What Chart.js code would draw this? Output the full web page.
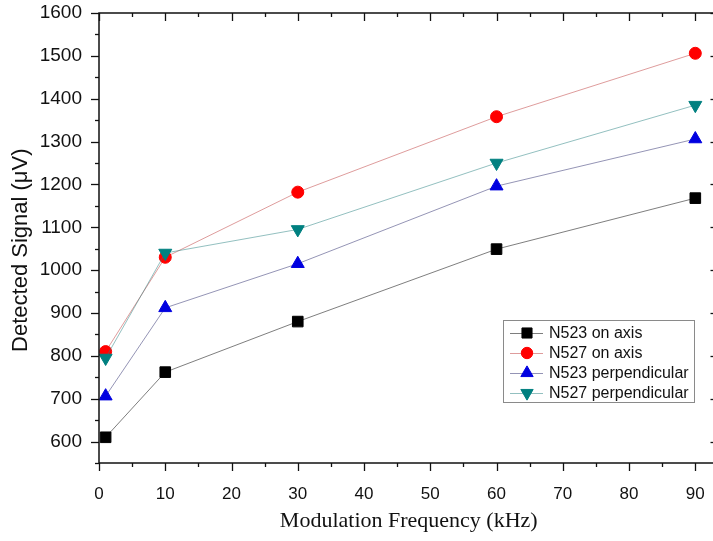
<!DOCTYPE html>
<html>
<head>
<meta charset="utf-8">
<title>Detected signal vs modulation frequency</title>
<script src="https://cdn.jsdelivr.net/npm/chart.js@4/dist/chart.umd.min.js"></script>
<style>
  html, body { margin: 0; padding: 0; background: #fff; overflow: hidden; }
  #wrap { width: 727px; height: 541px; }
</style>
</head>
<body>
<div id="wrap"><canvas id="signalChart" width="727" height="541"></canvas></div>
<script>
// values (kHz / µV)
const freqKHz = [1, 10, 30, 60, 90];
const n523OnAxis = [610, 762, 880, 1049, 1168];
const n527OnAxis = [810, 1030, 1182, 1358, 1506];
const n523Perp = [706, 912, 1015, 1196, 1306];
const n527Perp = [795, 1040, 1095, 1250, 1385];

const seriesNames = ['N523 on axis', 'N527 on axis', 'N523 perpendicular', 'N527 perpendicular'];
const xTicks = [0, 10, 20, 30, 40, 50, 60, 70, 80, 90];
const yTicks = [600, 700, 800, 900, 1000, 1100, 1200, 1300, 1400, 1500, 1600];

const SANS = '"Liberation Sans", Arial, sans-serif';
const SERIF = '"Liberation Serif", "Times New Roman", serif';

function toPoints(ys) {
  return freqKHz.map((x, i) => ({ x, y: ys[i] }));
}

function series(i, ys, color, lineColor, style, radius, rotation, order) {
  return {
    label: seriesNames[i],
    data: toPoints(ys),
    borderColor: lineColor,
    borderWidth: 1,
    pointStyle: style,
    pointRadius: radius,
    pointRotation: rotation,
    pointBackgroundColor: color,
    pointBorderColor: color,
    pointBorderWidth: 1,
    order,
  };
}

// midpoints between major ticks, kept inside the axis range
function minorTicks(majors, min, max) {
  const step = majors[1] - majors[0];
  const out = [];
  for (let v = majors[0] - step / 2; v <= majors[majors.length - 1] + step / 2; v += step) {
    if (v >= min && v <= max) out.push(v);
  }
  return out;
}

// Origin-style frame: box on all four sides, ticks out on left/bottom, in on top/right
const frameTicks = {
  id: 'frameTicks',
  afterDraw(chart) {
    const { ctx, chartArea: a } = chart;
    const { x, y } = chart.scales;
    const line = (x1, y1, x2, y2) => {
      ctx.beginPath();
      ctx.moveTo(x1, y1);
      ctx.lineTo(x2, y2);
      ctx.stroke();
    };
    ctx.save();
    ctx.strokeStyle = '#111';
    ctx.lineWidth = 1.5;
    ctx.strokeRect(a.left, a.top, a.right - a.left, a.bottom - a.top);
    ctx.lineWidth = 1.3;

    const xs = [...xTicks.map(v => [v, 8]), ...minorTicks(xTicks, x.min, x.max).map(v => [v, 4])];
    xs.forEach(([v, len]) => {
      const px = Math.round(x.getPixelForValue(v)) + 0.5;
      line(px, a.bottom, px, a.bottom + len);
      line(px, a.top, px, a.top + len);
    });

    const ys = [...yTicks.map(v => [v, 8]), ...minorTicks(yTicks, y.min, y.max).map(v => [v, 4])];
    ys.forEach(([v, len]) => {
      const py = Math.round(y.getPixelForValue(v)) + 0.5;
      line(a.left, py, a.left - len, py);
      line(a.right, py, a.right - len, py);
    });
    ctx.restore();
  }
};

// boxed legend inside the plot, line + symbol per entry
const boxLegend = {
  id: 'boxLegend',
  afterDraw(chart) {
    const { ctx } = chart;
    const left = 503, top = 320, width = 191, height = 82, rowH = 20;
    ctx.save();
    ctx.fillStyle = '#fff';
    ctx.fillRect(left, top, width, height);
    ctx.strokeStyle = '#8a8a8a';
    ctx.lineWidth = 1;
    ctx.strokeRect(left + 0.5, top + 0.5, width, height);
    ctx.font = '16px ' + SANS;
    ctx.textBaseline = 'middle';
    chart.data.datasets.forEach((ds, i) => {
      const cy = top + 13 + i * rowH;
      ctx.strokeStyle = ds.borderColor;
      ctx.lineWidth = 1;
      ctx.beginPath();
      ctx.moveTo(left + 7, cy + 0.5);
      ctx.lineTo(left + 40, cy + 0.5);
      ctx.stroke();
      ctx.fillStyle = ds.pointBackgroundColor;
      ctx.strokeStyle = ds.pointBorderColor;
      Chart.helpers.drawPoint(ctx, {
        pointStyle: ds.pointStyle,
        rotation: ds.pointRotation,
        radius: ds.pointRadius * 0.95,
        borderWidth: 1,
      }, left + 24, cy);
      ctx.fillStyle = '#111';
      ctx.fillText(ds.label, left + 46, cy + 1);
    });
    ctx.restore();
  }
};

new Chart(document.getElementById('signalChart'), {
  type: 'line',
  data: {
    datasets: [
      series(0, n523OnAxis, '#000000', 'rgba(40,40,40,0.6)', 'rect', 7.5, 0, 3),
      series(1, n527OnAxis, '#ff0000', 'rgba(200,90,90,0.6)', 'circle', 6, 0, 2),
      series(2, n523Perp, '#0000e0', 'rgba(60,60,120,0.55)', 'triangle', 7.5, 0, 1),
      series(3, n527Perp, '#008080', 'rgba(40,130,130,0.5)', 'triangle', 7.5, 180, 0),
    ]
  },
  options: {
    responsive: false,
    animation: false,
    devicePixelRatio: 1,
    layout: { padding: { top: 13, right: 6, left: 0, bottom: 0 } },
    plugins: {
      legend: { display: false },
      tooltip: { enabled: false },
    },
    scales: {
      x: {
        type: 'linear',
        min: 0,
        max: 93.5,
        afterBuildTicks: s => { s.ticks = xTicks.map(v => ({ value: v })); },
        afterFit: s => { s.height = 78; s.paddingLeft = 0; s.paddingRight = 0; },
        grid: { display: false },
        border: { display: false },
        ticks: { font: { family: SANS, size: 17 }, color: '#111', padding: 13, maxRotation: 0 },
        title: {
          display: true,
          text: 'Modulation Frequency (kHz)',
          font: { family: SERIF, size: 22 },
          color: '#111',
          padding: { top: 0, bottom: 7 },
        },
      },
      y: {
        min: 550,
        max: 1600,
        afterBuildTicks: s => { s.ticks = yTicks.map(v => ({ value: v })); },
        afterFit: s => { s.width = 99; s.paddingTop = 0; s.paddingBottom = 0; },
        grid: { display: false },
        border: { display: false },
        ticks: {
          font: { family: SANS, size: 19 },
          color: '#111',
          padding: 9,
          callback: v => String(v),
        },
        title: {
          display: true,
          text: 'Detected Signal (\u03bcV)    ',
          font: { family: SANS, size: 22 },
          color: '#111',
          padding: { top: 8, bottom: 0 },
        },
      },
    },
  },
  plugins: [frameTicks, boxLegend],
});
</script>
</body>
</html>
